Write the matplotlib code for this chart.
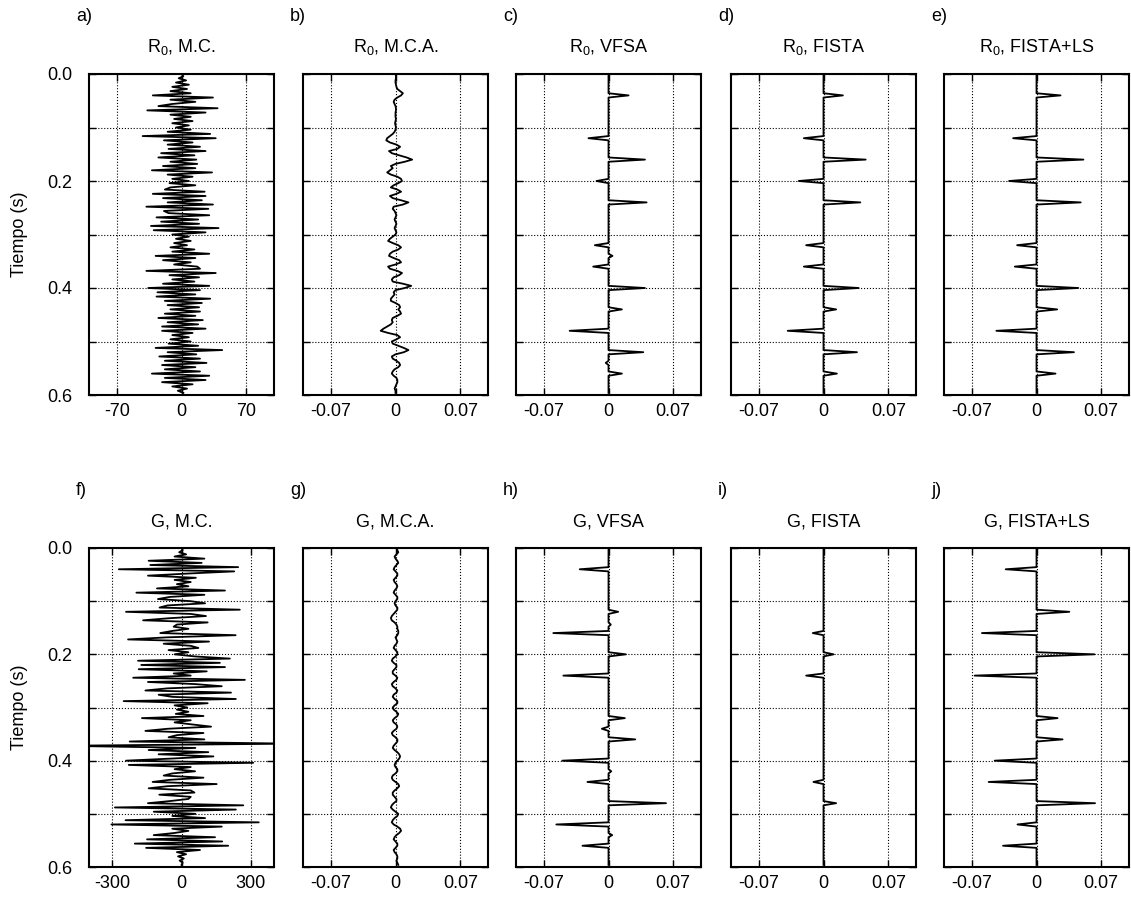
import numpy as np
import matplotlib
matplotlib.use("Agg")
import matplotlib.pyplot as plt
from matplotlib.ticker import MultipleLocator

plt.rcParams['font.family'] = ['Liberation Sans', 'DejaVu Sans']
plt.rcParams['mathtext.fontset'] = 'custom'
plt.rcParams['mathtext.rm'] = 'Liberation Sans'
plt.rcParams['mathtext.it'] = 'Liberation Sans:italic'
plt.rcParams['font.size'] = 13

dt = 0.004
nt = 150

# R0, M.C. (sample by sample, dt = 4 ms)
r0_mc = [0, 2, -3, 5, -6, 8, -10, 6, -12, 10,
         -31, 34, -12, 15, -10, -25, 39, -37, 26, -12,
         10, -8, 12, -10, 8, -6, 10, -15, 31, -42,
         37, -19, 12, -15, 20, -14, 26, -22, 14, -25,
         16, -12, 17, -20, 15, -32, 33, -15, 12, -10,
         8, -13, 15, -12, -18, 25, -31, 26, -20, 22,
         -15, 34, -38, 29, -19, -14, 30, -27, 18, -22,
         19, -33, 40, -30, 26, -10, 8, -6, 10, -8,
         6, -12, 14, -10, 30, -28, 15, -20, 10, -8,
         17, 20, -38, 37, -13, 19, -10, 14, -20, 30,
         -36, 20, -26, 15, -27, 31, -18, 22, -15, 19,
         -12, 20, -18, 15, -25, 23, -15, 18, -21, 26,
         -21, 12, -10, 8, -12, 10, -14, 18, -28, 44,
         -15, 16, -24, 20, -18, 27, -21, 15, -18, 20,
         -32, 30, -18, 26, -21, 12, -10, 6, -4, 2]

# R0, M.C.A. (x 1e-3)
r0_mca = [0, 0.5, 0.5, 0, 0, 0.5, 1, 2, 5, 8,
          6, 2, -1, -2, -1, 0, 0.5, 0.5, 0, 0,
          0, 0.5, 0, -0.5, 0, 0.5, 0, -1, -3, -6,
          -9, -10, -6, 1, 5, 2, -7, -4, 4, 12,
          18, 10, 0, -5, -3, -6, -9, -5, 2, 6,
          7, 3, -2, -5, 2, 6, 1, -6, -3, 6,
          14, 8, -2, -3, -1, 0, 1, 0, -1, 0,
          1, 0, -1, 0, 1, 0, -3, -6, -8, -3,
          3, 6, 3, -3, -6, -7, -2, 4, 6, 0,
          -8, -6, 2, 7, 4, -2, -4, -3, 8, 17,
          10, 0, -2, -1, -3, -5, -5, 0, 4, 5,
          3, 5, 6, 2, -3, -4, -3, -5, -9, -13,
          -16, -8, 2, 5, 1, -4, -3, 3, 9, 14,
          9, 0, -4, -3, 1, 4, 5, 3, -1, -3,
          -4, -2, 1, 2, 2, 1, 0, -1, 0, 0]

# G, M.C.
g_mc = [0, 5, -10, 20, -30, 99, -142, 87, -135, 245,
        -271, 228, 30, -145, 62, -30, 40, -20, 30, -106,
        188, -195, 99, -50, -102, 40, 102, -60, -95, 252,
        -240, 40, 106, -50, -166, 113, -20, -34, 30, -40,
        -92, 234, -60, -231, 119, -77, 40, 73, -56, 30,
        -30, 60, 209, -188, 166, -174, 188, -185, 109, -34,
        40, -209, 274, -145, 60, 174, -60, -156, 214, -99,
        -40, 235, -250, 113, -30, 25, -20, 30, -25, 95,
        -171, 40, -30, 50, 128, -60, -156, 95, -20, -56,
        99, -224, 480, -520, 60, -142, 116, -99, 138, -40,
        -240, 310, -228, 40, -30, 59, -40, -77, 95, -50,
        -125, 152, -60, -142, 40, 56, -96, 40, 30, -50,
        -145, 267, -288, 235, -120, 60, -40, 102, -242, 334,
        -303, 174, -40, 30, -30, -120, 145, -149, 176, -202,
        202, -153, 80, -20, 20, -15, 10, -8, 5, 0]

# G, M.C.A. (x 1e-3)
g_mca = [1, 2, 3, 1, -1, 0, 2, 3, 1, -1,
         -2, 0, 2, 2, 0, -2, -1, 1, 2, 1,
         -1, -2, 0, 2, 2, 0, -1, 0, 2, 2,
         0, -2, -4, -5, -4, -1, 1, 2, 2, 3,
         3, 2, 0, 1, 2, 1, -1, -2, 0, 2,
         2, 0, -3, -4, -2, 1, 1, -1, -3, -3,
         0, 2, 1, -2, -4, -3, 0, 2, 1, -2,
         -3, -1, 2, 2, -1, -3, -2, 1, 3, 2,
         -1, -3, -2, 1, 2, 1, -2, -4, -3, 0,
         2, 2, 0, -2, -3, -1, 2, 4, 5, 4,
         2, 0, -1, 0, 2, 2, 0, -3, -4, -3,
         0, 3, 4, 2, -1, -3, -3, -1, 1, 1,
         -2, -4, -5, -3, 0, 3, 2, -1, -3, -4,
         -2, 2, 5, 6, 4, 1, -1, -2, 0, 2,
         2, 0, -2, -1, 1, 2, 2, 1, 2, 3]

# sparse reflectivity estimates: spike times (s) and amplitudes
r0_vfsa_t = [0.04, 0.12, 0.16, 0.20, 0.24, 0.32, 0.34, 0.36, 0.40, 0.44, 0.48, 0.52, 0.54, 0.56]
r0_vfsa_a = [0.0217, -0.0217, 0.0394, -0.013, 0.0412, -0.0148, 0.0043, -0.0166,
             0.0394, 0.0145, -0.042, 0.0376, -0.003, 0.0145]

r0_fista_t = [0.04, 0.12, 0.16, 0.20, 0.24, 0.32, 0.36, 0.40, 0.44, 0.48, 0.52, 0.56]
r0_fista_a = [0.021, -0.0213, 0.0456, -0.0268, 0.0398, -0.0188, -0.0213,
              0.038, 0.0137, -0.0387, 0.0362, 0.0145]

r0_fls_t = [0.04, 0.12, 0.16, 0.20, 0.24, 0.32, 0.36, 0.40, 0.44, 0.48, 0.52, 0.56]
r0_fls_a = [0.026, -0.0253, 0.0507, -0.0297, 0.0478, -0.021, -0.0235,
            0.0452, 0.0224, -0.0434, 0.0405, 0.0206]

g_vfsa_t = [0.04, 0.12, 0.144, 0.16, 0.20, 0.24, 0.32, 0.34, 0.36, 0.40, 0.42, 0.44,
            0.48, 0.52, 0.54, 0.56]
g_vfsa_a = [-0.0311, 0.0105, 0.0025, -0.0597, 0.0188, -0.0488, 0.0177, -0.0072, 0.029,
            -0.050, 0.003, -0.0228, 0.0622, -0.0564, 0.004, -0.0282]

g_fista_t = [0.16, 0.20, 0.24, 0.44, 0.48]
g_fista_a = [-0.0116, 0.0109, -0.0188, -0.0109, 0.0137]

g_fls_t = [0.04, 0.12, 0.16, 0.20, 0.24, 0.32, 0.36, 0.40, 0.44, 0.48, 0.52, 0.56]
g_fls_a = [-0.0333, 0.0355, -0.059, 0.0626, -0.0669, 0.0228, 0.0282,
           -0.0452, -0.0517, 0.0633, -0.0206, -0.0362]

titles = [r"R$_0$, M.C.", r"R$_0$, M.C.A.", r"R$_0$, VFSA", r"R$_0$, FISTA", r"R$_0$, FISTA+LS",
          "G, M.C.", "G, M.C.A.", "G, VFSA", "G, FISTA", "G, FISTA+LS"]
letters = ["a)", "b)", "c)", "d)", "e)", "f)", "g)", "h)", "i)", "j)"]

t = np.arange(nt) * dt


def spikes(times, amps):
    tr = np.zeros(nt)
    idx = np.round(np.array(times) / dt).astype(int)
    tr[idx] = amps
    return tr


traces = [np.array(r0_mc), np.array(r0_mca) * 1e-3,
          spikes(r0_vfsa_t, r0_vfsa_a), spikes(r0_fista_t, r0_fista_a), spikes(r0_fls_t, r0_fls_a),
          np.array(g_mc), np.array(g_mca) * 1e-3,
          spikes(g_vfsa_t, g_vfsa_a), spikes(g_fista_t, g_fista_a), spikes(g_fls_t, g_fls_a)]

W, H = 1131, 902
fig = plt.figure(figsize=(W / 100, H / 100), dpi=100)

lefts = [89, 303, 516, 731, 944]
tops = [74, 548]
bottoms = [395, 867]
pw = 185

for i in range(10):
    row, col = divmod(i, 5)
    ax = fig.add_axes([lefts[col] / W, 1 - bottoms[row] / H, pw / W,
                       (bottoms[row] - tops[row]) / H])
    ax.plot(traces[i], t, color='black', lw=1.3)
    ax.set_ylim(0.6, 0)

    if col == 0:
        lim = 100 if row == 0 else 400
        tk = 70 if row == 0 else 300
        ax.set_xlim(-lim, lim)
        ax.set_xticks([-tk, 0, tk])
        ax.set_xticklabels(["-%d" % tk, "0", "%d" % tk])
    else:
        ax.set_xlim(-0.1, 0.1)
        ax.set_xticks([-0.07, 0, 0.07])
        ax.set_xticklabels(["-0.07", "0", "0.07"])

    ax.yaxis.set_major_locator(MultipleLocator(0.2))
    ax.yaxis.set_minor_locator(MultipleLocator(0.1))
    if col == 0:
        ax.set_yticks([0, 0.2, 0.4, 0.6])
        ax.set_yticklabels(["0.0", "0.2", "0.4", "0.6"])
    else:
        ax.set_yticklabels([])

    ax.grid(True, which='both', linestyle=':', color='black', linewidth=0.8)
    ax.tick_params(which='both', direction='in', top=True, right=True,
                   length=5, width=1, labelsize=13)
    ax.tick_params(axis='x', pad=6)
    ax.tick_params(axis='y', pad=12)
    for s in ax.spines.values():
        s.set_linewidth(1.5)

    ax.text(0.5, 1.067, titles[i], transform=ax.transAxes, ha='center',
            va='baseline', fontsize=13)
    ax.text(-0.07, 1.165, letters[i], transform=ax.transAxes, ha='left',
            va='baseline', fontsize=13)
    if col == 0:
        yc = 1 - (tops[row] + bottoms[row]) / 2 / H
        fig.text(19 / W, yc, "Tiempo (s)", rotation=90, ha='center',
                 va='center', fontsize=13)

fig.savefig("out.png", dpi=100)
